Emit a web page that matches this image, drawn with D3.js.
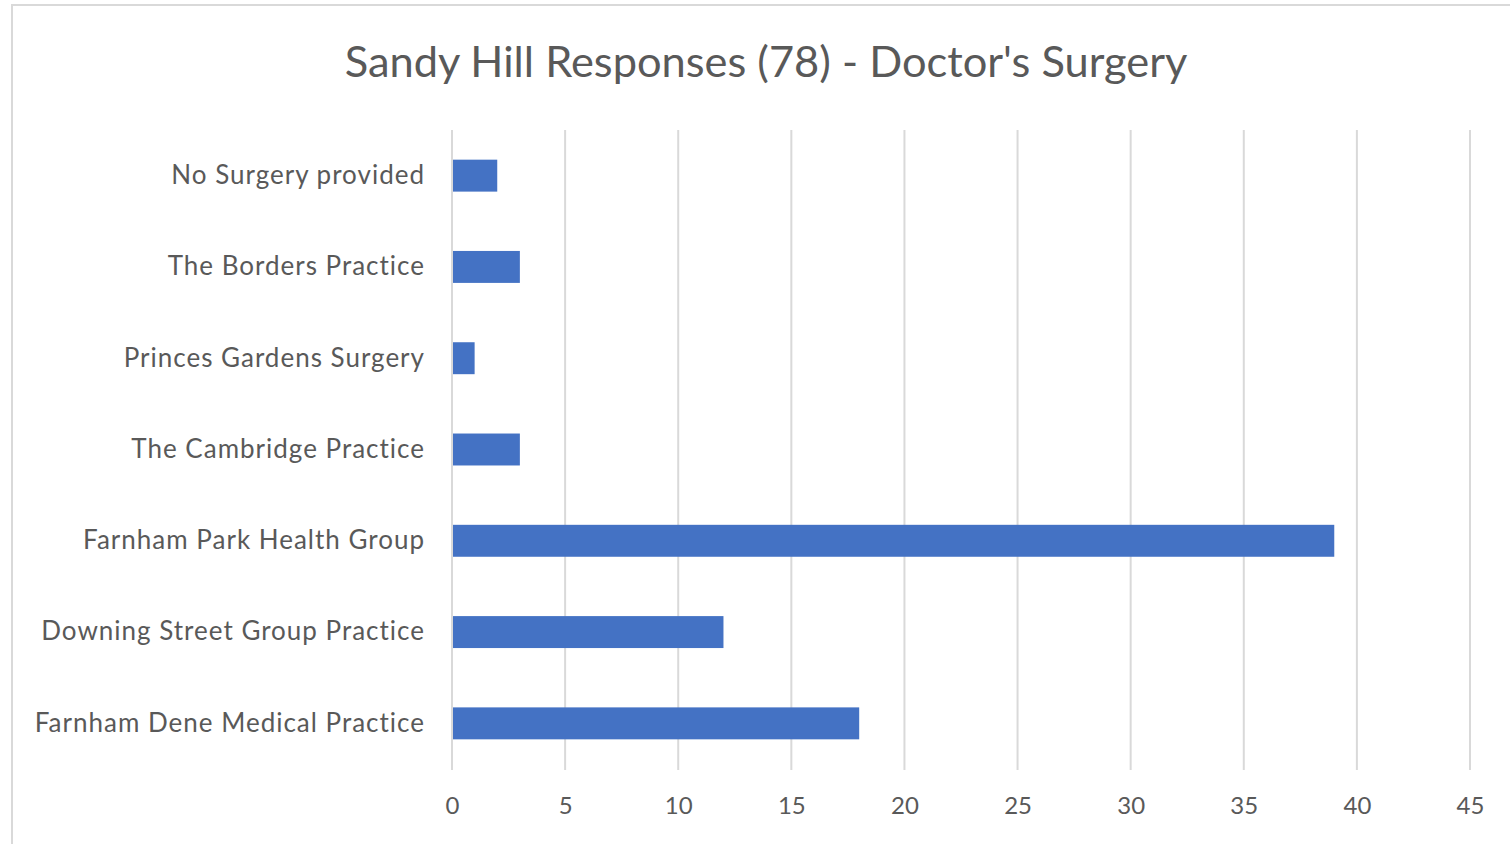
<!DOCTYPE html>
<html>
<head>
<meta charset="utf-8">
<script src="https://cdn.jsdelivr.net/npm/d3@7"></script>
<style>
  html, body { margin: 0; padding: 0; background: #fff; }
  svg { display: block; }
  text { font-family: Lato, "Open Sans", sans-serif; }
</style>
</head>
<body>
<svg id="chart" width="1510" height="844"></svg>
<script>
const title = "Sandy Hill Responses (78) - Doctor's Surgery";
const categories = [
  "No Surgery provided",
  "The Borders Practice",
  "Princes Gardens Surgery",
  "The Cambridge Practice",
  "Farnham Park Health Group",
  "Downing Street Group Practice",
  "Farnham Dene Medical Practice"
];
const values = [2, 3, 1, 3, 39, 12, 18];
const tickValues = [0, 5, 10, 15, 20, 25, 30, 35, 40, 45];

const svg = d3.select("#chart");
const W = 1510, H = 844;

// chart area border
svg.append("rect")
  .attr("x", 12).attr("y", 5)
  .attr("width", W + 20).attr("height", H + 20)
  .attr("fill", "#fff")
  .attr("stroke", "#d9d9d9").attr("stroke-width", 2);

const x = d3.scaleLinear().domain([0, 45]).range([452, 1470]);
const y = d3.scaleBand().domain(categories).range([130, 769])
  .paddingInner(0.65).paddingOuter(0.325);

// gridlines
svg.append("g").selectAll("line").data(tickValues).join("line")
  .attr("x1", d => x(d)).attr("x2", d => x(d))
  .attr("y1", 130).attr("y2", 770)
  .attr("stroke", "#d9d9d9").attr("stroke-width", 2);

// bars
svg.append("g").selectAll("rect").data(values).join("rect")
  .attr("x", x(0) + 1)
  .attr("y", (d, i) => y(categories[i]))
  .attr("width", d => x(d) - x(0) - 1)
  .attr("height", y.bandwidth())
  .attr("fill", "#4472c4");

// x axis tick labels
const xAxis = d3.axisBottom(x).tickValues(tickValues).tickSize(0).tickPadding(0);
const gx = svg.append("g").attr("transform", "translate(0,797)").call(xAxis);
gx.select(".domain").remove();
gx.selectAll("text")
  .attr("fill", "#595959")
  .attr("font-size", 24)
  .attr("font-family", "Lato, sans-serif")
  .attr("dy", "0.71em");

// y axis labels
const yAxis = d3.axisLeft(y).tickSize(0).tickPadding(27);
const gy = svg.append("g").attr("transform", "translate(452,0)").call(yAxis);
gy.select(".domain").remove();
gy.selectAll("text")
  .attr("fill", "#595959")
  .attr("font-size", 26)
  .attr("letter-spacing", 1)
  .attr("font-family", "Lato, sans-serif");

// title
svg.append("text")
  .attr("x", 766).attr("y", 77)
  .attr("text-anchor", "middle")
  .attr("fill", "#595959")
  .attr("font-size", 43.4)
  .text(title);
</script>
</body>
</html>
